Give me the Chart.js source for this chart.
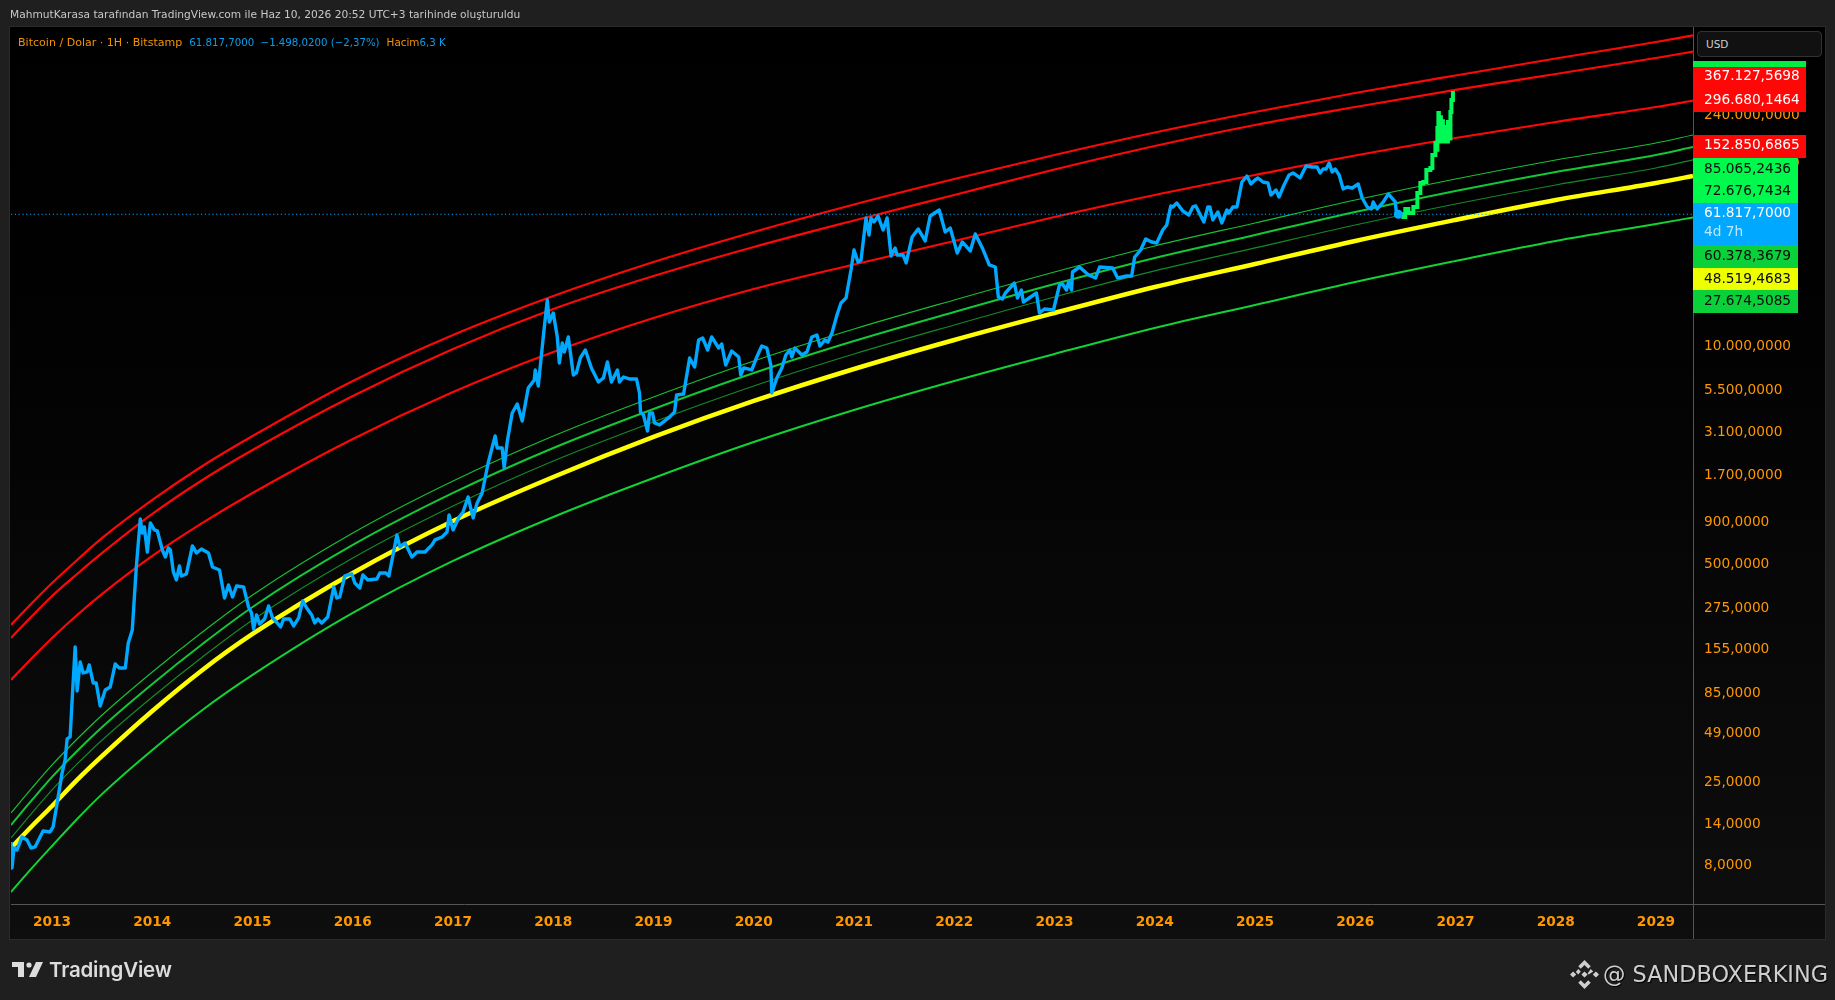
<!DOCTYPE html>
<html>
<head>
<meta charset="utf-8">
<title>Bitcoin / Dolar</title>
<script src="https://cdn.jsdelivr.net/npm/chart.js@4"></script>
<style>
  html, body { margin: 0; padding: 0; background: #1f1f1f; }
  #wrap { position: relative; width: 1835px; height: 1000px; overflow: hidden; font-family: "DejaVu Sans", sans-serif; }
  canvas { position: absolute; left: 0; top: 0; }
  .txt { position: absolute; white-space: nowrap; }
  #baslik { left: 10px; top: 8px; font-size: 10.65px; color: #c8c8c8; line-height: 14px; }
  #sembol { left: 18px; top: 35px; font-size: 11.05px; line-height: 14px; color: #f59300; }
  #sembol b { font-weight: normal; color: #0a9ee8; font-size: 10.2px; }
  #sembol i { font-style: normal; font-size: 10.4px; }
  #usd { position: absolute; left: 1697px; top: 31px; width: 125px; height: 26px; box-sizing: border-box; background: #111; border: 1px solid #333; border-radius: 4px; color: #cfcfcf; font-size: 10.5px; line-height: 25px; padding-left: 8px; }
  #logo { position: absolute; left: 12px; top: 962px; }
  #tv { left: 49px; top: 956px; font-family: Inter, sans-serif; font-weight: 600; font-size: 20.5px; line-height: 28px; color: #dcdcdc; letter-spacing: -0.2px; }
  #bnb { position: absolute; left: 1570px; top: 960px; }
  #imza { left: 1603px; top: 958px; font-size: 22.4px; line-height: 32px; color: #cfcfcf; text-shadow: 1px 1px 1px #000; }
</style>
</head>
<body>
<div id="wrap">
  <canvas id="grafik" width="1835" height="1000"></canvas>
  <div class="txt" id="baslik">MahmutKarasa tarafından TradingView.com ile Haz 10, 2026 20:52 UTC+3 tarihinde oluşturuldu</div>
  <div class="txt" id="sembol">Bitcoin / Dolar · 1H · Bitstamp&nbsp; <b>61.817,7000&nbsp; −1.498,0200 (−2,37%)</b>&nbsp; <i>Hacim</i><b>6,3 K</b></div>
  <div id="usd">USD</div>
  <svg id="logo" width="31" height="16" viewBox="0 0 31 16"><path d="M0 0h12v15H6V5H0z M24 0h7l-7 15h-7z" fill="#dcdcdc"/><circle cx="17" cy="3" r="2.6" fill="#dcdcdc"/></svg>
  <div class="txt" id="tv">TradingView</div>
  <svg id="bnb" width="29" height="29" viewBox="0 0 28 28"><path d="M14 0l6 6-2.4 2.4L14 4.8l-3.6 3.6L8 6z M3 11l3 3-3 3-3-3z M25 11l3 3-3 3-3-3z M14 11l3 3-3 3-3-3z M14 28l-6-6 2.4-2.4 3.6 3.6 3.6-3.6L20 22z M8 8.6l2.4 2.4L8 14l-2.4-2.4z M20 8.6l2.4 2.4L18 14l-1-1z" fill="#cfcfcf"/></svg>
  <div class="txt" id="imza">@ SANDBOXERKING</div>
</div>
<script>
const yearTicks = [2013, 2014, 2015, 2016, 2017, 2018, 2019, 2020, 2021, 2022, 2023, 2024, 2025, 2026, 2027, 2028, 2029];
const priceTicks = [240000, 125000, 10000, 5500, 3100, 1700, 900, 500, 275, 155, 85, 49, 25, 14, 8];

const bandYears = [2012.59, 2012.8, 2013, 2013.25, 2013.5, 2014, 2014.5, 2015, 2016, 2017, 2018, 2019, 2020, 2021, 2022, 2023, 2024, 2025, 2026, 2027, 2028, 2029, 2029.37];
const yellowBand = [10.18, 13.78, 18.14, 25.96, 36.1, 66.97, 117.7, 193, 446.5, 912, 1670, 2895, 4748, 7372, 10984, 15915, 22757, 31218, 42840, 57170, 75250, 95030, 104660];
const greenTop = [16.48, 23.25, 31.9, 45.58, 63.4, 114.5, 198.4, 330, 773.7, 1581, 2934, 5018, 8229, 12773, 19030, 27964, 39988, 54865, 75250, 100412, 130400, 164700, 183900];
const greenMid = [13.97, 19.71, 27.05, 38.65, 53.76, 97.1, 168.2, 279.8, 656, 1341, 2488, 4255, 6977, 10830, 16135, 23710, 33905, 46520, 63805, 85140, 110570, 139650, 155930];
const greenLow = [11.69, 16.49, 22.63, 32.33, 44.97, 81.2, 140.7, 234, 548.8, 1121, 2081, 3559, 5837, 9060, 13498, 19835, 28364, 38916, 53375, 71222, 92490, 116820, 130440];
const greenBottom = [5.56, 7.74, 10.47, 15.17, 21.42, 39.2, 67.9, 109.9, 257.6, 526.5, 963.9, 1647, 2702, 4196, 6252, 9060, 12950, 17766, 24380, 32531, 42840, 54105, 59180];
const redOne = [218.5, 295.6, 389, 533.8, 722.5, 1218, 1943, 2934, 6251, 11765, 20108, 32085, 48484, 70740, 100400, 139700, 190300, 252250, 327500, 416700, 526300, 660100, 723800];
const redTwo = [182.7, 247.1, 325.4, 440.3, 587.7, 1005, 1603, 2421, 5087, 9705, 16815, 26470, 39450, 56770, 80620, 114400, 158100, 211000, 270200, 341470, 425360, 530000, 577950];
const redThree = [102.6, 138.8, 182.7, 250.6, 334.6, 563.9, 888, 1340, 2817, 5373, 9313, 14860, 22140, 31000, 42840, 59550, 80620, 106100, 138700, 176480, 219850, 270200, 294640];

const btcYears = [2012.59, 2012.60, 2012.62, 2012.65, 2012.70, 2012.75, 2012.79, 2012.83, 2012.88, 2012.91, 2012.98, 2013.01, 2013.05, 2013.10, 2013.13, 2013.15, 2013.18, 2013.20, 2013.23, 2013.25, 2013.28, 2013.31, 2013.35, 2013.37, 2013.41, 2013.44, 2013.48, 2013.53, 2013.58, 2013.63, 2013.67, 2013.73, 2013.76, 2013.80, 2013.84, 2013.88, 2013.90, 2013.92, 2013.95, 2013.98,
  2014.02, 2014.05, 2014.10, 2014.13, 2014.16, 2014.18, 2014.21, 2014.24, 2014.27, 2014.29, 2014.34, 2014.40, 2014.44, 2014.49, 2014.56, 2014.60, 2014.67, 2014.72, 2014.76, 2014.80, 2014.84, 2014.91, 2014.96, 2014.99,
  2015.01, 2015.04, 2015.07, 2015.12, 2015.16, 2015.20, 2015.28, 2015.31, 2015.37, 2015.41, 2015.46, 2015.50, 2015.54, 2015.59, 2015.62, 2015.65, 2015.69, 2015.75, 2015.81, 2015.84, 2015.87, 2015.92, 2015.99,
  2016.02, 2016.07, 2016.10, 2016.15, 2016.24, 2016.27, 2016.33, 2016.36, 2016.44, 2016.47, 2016.52, 2016.59, 2016.64, 2016.72, 2016.79, 2016.82, 2016.89, 2016.94, 2016.96,
  2017.00, 2017.06, 2017.10, 2017.15, 2017.20, 2017.24, 2017.29, 2017.35, 2017.42, 2017.44, 2017.49, 2017.51, 2017.54, 2017.59, 2017.64, 2017.69, 2017.75, 2017.81, 2017.82, 2017.85, 2017.90, 2017.94, 2017.96,
  2018.00, 2018.04, 2018.06, 2018.09, 2018.11, 2018.15, 2018.20, 2018.23, 2018.27, 2018.32, 2018.38, 2018.45, 2018.50, 2018.54, 2018.58, 2018.64, 2018.66, 2018.70, 2018.76, 2018.83, 2018.86, 2018.87, 2018.90, 2018.94, 2018.96, 2018.99,
  2019.01, 2019.06, 2019.15, 2019.21, 2019.23, 2019.30, 2019.36, 2019.41, 2019.45, 2019.49, 2019.54, 2019.58, 2019.65, 2019.68, 2019.72, 2019.78, 2019.85, 2019.87, 2019.90, 2019.98,
  2020.03, 2020.08, 2020.13, 2020.17, 2020.18, 2020.23, 2020.28, 2020.32, 2020.36, 2020.38, 2020.41, 2020.48, 2020.53, 2020.58, 2020.63, 2020.66, 2020.71, 2020.74, 2020.78, 2020.83, 2020.87, 2020.92, 2020.97,
  2021.00, 2021.04, 2021.07, 2021.12, 2021.15, 2021.17, 2021.20, 2021.24, 2021.29, 2021.33, 2021.37, 2021.41, 2021.43, 2021.49, 2021.52, 2021.58, 2021.64, 2021.71, 2021.76, 2021.85, 2021.91, 2021.96,
  2022.03, 2022.08, 2022.16, 2022.21, 2022.28, 2022.35, 2022.41, 2022.44, 2022.48, 2022.51, 2022.60, 2022.63, 2022.67, 2022.69, 2022.82, 2022.85, 2022.90, 2022.99,
  2023.05, 2023.08, 2023.12, 2023.14, 2023.17, 2023.18, 2023.25, 2023.34, 2023.41, 2023.45, 2023.58, 2023.63, 2023.72, 2023.77, 2023.80, 2023.86, 2023.91, 2023.97,
  2024.02, 2024.08, 2024.12, 2024.16, 2024.18, 2024.22, 2024.28, 2024.34, 2024.38, 2024.41, 2024.49, 2024.53, 2024.55, 2024.58, 2024.63, 2024.67, 2024.72, 2024.74, 2024.78, 2024.82, 2024.87, 2024.92, 2024.96,
  2025.00, 2025.03, 2025.08, 2025.13, 2025.16, 2025.21, 2025.24, 2025.29, 2025.34, 2025.38, 2025.45, 2025.51, 2025.57, 2025.62, 2025.65, 2025.68, 2025.71, 2025.74, 2025.77, 2025.80, 2025.84, 2025.88, 2025.92, 2025.97,
  2026.03, 2026.07, 2026.12, 2026.16, 2026.18, 2026.22, 2026.28, 2026.33, 2026.40, 2026.41, 2026.43];
const btcPrices = [11.06, 7.74, 10.18, 9.91, 11.85, 11.37, 10.18, 10.33, 11.85, 12.87, 12.69, 13.59, 18.9, 28.6, 34.2, 45.6, 46.9, 77.9, 161.5, 88.2, 131.3, 112.9, 114.5, 126, 98.4, 98.4, 71.7, 89.4, 93.2, 127.8, 121, 121, 170.5, 204, 484.7, 938, 773.7, 840, 595.8, 888,
  806.6, 795.5, 612.4, 556.2, 629.6, 612.4, 452.6, 405.5, 491.4, 428.4, 440.3, 647.2, 587.7, 621, 587.7, 484.7, 465.2, 316.6, 378.6, 321, 373.3, 368.3, 279.7, 257.6,
  206.7, 250.6, 221.5, 237.2, 283.6, 240.5, 212.5, 237.2, 237.2, 215.5, 240.5, 303.8, 275.9, 250.6, 224.6, 237.2, 224.6, 243.8, 368.3, 316.6, 321, 428.4, 440.3,
  389, 363.3, 434.4, 405.5, 411, 446.5, 446.5, 428.4, 753, 638.5, 674.3, 556.2, 595.8, 595.8, 656.4, 703, 732.5, 784.8, 991,
  806.6, 964, 1033, 1269, 951, 1169, 1340, 2025, 2934, 2488, 2488, 1891, 2702, 4026, 4556, 3606, 5678, 6339, 7272, 5834, 11445, 19030, 14063,
  15915, 11445, 8005, 10535, 9313, 11445, 6789, 6979, 8576, 9572, 7476, 6167, 6514, 8116, 6167, 7272, 6167, 6603, 6425, 6425, 5299, 4082, 3917, 3144, 4026, 4026,
  3510, 3415, 3760, 4082, 5158, 5230, 8576, 7575, 10984, 11289, 9572, 11445, 9837, 10398, 7789, 9441, 8693, 6789, 7476, 7272,
  8693, 10113, 9837, 7789, 5299, 6514, 7476, 8936, 9572, 8693, 9837, 8936, 9313, 11445, 11765, 10113, 10984, 10682, 12088, 15485, 18261, 19560, 28747,
  37840, 32085, 32982, 58770, 46520, 58770, 55610, 60380, 49830, 58770, 34840, 38900, 35330, 35330, 31650, 45260, 50510, 42840, 60380, 65590, 48480, 51210,
  36310, 42240, 37320, 47150, 38900, 30790, 29950, 19840, 19300, 20950, 24040, 19560, 21840, 18510, 20950, 15915, 16815, 16587,
  23390, 23710, 21840, 24380, 21840, 27960, 29950, 26840, 25750, 29950, 29550, 25750, 26470, 26470, 34370, 37840, 44030, 42240,
  41660, 49830, 53380, 69290, 68340, 72210, 64690, 61230, 68340, 69290, 55610, 68340, 68340, 57170, 63810, 54870, 65590, 62930, 68340, 68340, 96390, 104660, 93740,
  99065, 101800, 96390, 95030, 80620, 86350, 78420, 92480, 106100, 109100, 101800, 120000, 118400, 118400, 109100, 115220, 115220, 125100, 110600, 115220, 106100, 87530, 89970, 88740,
  93740, 77330, 68340, 66490, 73210, 66490, 73210, 81740, 73210, 63810, 61818];

const projectionYears = [2026.43, 2026.48, 2026.50, 2026.53, 2026.58, 2026.62, 2026.65, 2026.68, 2026.71, 2026.75, 2026.77, 2026.80, 2026.81, 2026.82, 2026.83, 2026.835, 2026.845, 2026.855, 2026.865, 2026.875, 2026.885, 2026.895, 2026.905, 2026.915, 2026.925, 2026.935, 2026.95, 2026.96, 2026.975];
const projectionPrices = [61818, 59550, 66490, 62930, 68340, 82820, 95030, 96390, 113700, 116840, 139700, 164700, 150000, 202400, 248800, 168000, 235000, 171700, 222000, 168000, 205000, 168000, 205000, 168000, 220000, 175000, 252250, 297500, 336800];

const lastPrice = 61817.70;
const lastYear = 2026.43;
const countdown = "4d 7h";
const tagValues = [367127.5698, 296680.1464, 152850.6865, 85065.2436, 72676.7434, 60378.3679, 48519.4683, 27674.5085];

const fmt = v => v.toLocaleString("tr-TR", { minimumFractionDigits: 4, maximumFractionDigits: 4 });
const pts = (xs, ys) => xs.map((x, i) => ({ x: x, y: ys[i] }));
const band = (label, data, color, width, order) => ({
  label: label, data: pts(bandYears, data), borderColor: color, borderWidth: width,
  pointRadius: 0, cubicInterpolationMode: "monotone", order: order
});

// etiket kutulari: fiyat ekseninde TradingView'un kaydirdigi yerler
const tagStyle = [
  { top: 67, h: 23, bg: "#ff0707", fg: "#fff", w: 113, dy: -2 },
  { top: 90, h: 22, bg: "#ff0707", fg: "#fff", w: 113, dy: -1 },
  { top: 135, h: 23, bg: "#ff0707", fg: "#fff", w: 113, dy: -1 },
  { top: 158, h: 22, bg: "#00f94c", fg: "#0a0a0a", w: 105, dy: 0 },
  { top: 180, h: 23, bg: "#00f94c", fg: "#0a0a0a", w: 105, dy: 0 },
  { top: 245, h: 23, bg: "#0ad13a", fg: "#0a0a0a", w: 105, dy: 0 },
  { top: 268, h: 22, bg: "#eeff00", fg: "#0a0a0a", w: 105, dy: 0 },
  { top: 290, h: 23, bg: "#0ad13a", fg: "#0a0a0a", w: 105, dy: 0 }
];

const panelPlugin = {
  id: "panel",
  beforeDraw(chart) {
    const c = chart.ctx;
    const g = c.createLinearGradient(0, 27, 0, 940);
    g.addColorStop(0, "#000000");
    g.addColorStop(0.35, "#020202");
    g.addColorStop(1, "#0e0e0e");
    c.fillStyle = g;
    c.fillRect(10, 27, 1815, 912);
    c.strokeStyle = "#2b2b2b";
    c.strokeRect(9.5, 26.5, 1816, 913);
  },
  afterDraw(chart) {
    const c = chart.ctx;
    const a = chart.chartArea;
    c.save();
    c.strokeStyle = "#555";
    c.lineWidth = 1;
    c.beginPath();
    c.moveTo(a.right + 0.5, 27);
    c.lineTo(a.right + 0.5, 939);
    c.moveTo(a.left, a.bottom + 0.5);
    c.lineTo(1825, a.bottom + 0.5);
    c.stroke();

    c.font = "13.7px 'DejaVu Sans'";
    c.textBaseline = "middle";
    c.textAlign = "left";
    const tx = a.right + 11;
    // en ustte kalan yesil kutu
    c.fillStyle = "#00ee44";
    c.fillRect(a.right, 61, 113, 6);
    tagValues.forEach((v, i) => {
      const s = tagStyle[i];
      c.fillStyle = s.bg;
      c.fillRect(a.right, s.top, s.w, s.h);
      c.fillStyle = s.fg;
      c.fillText(fmt(v), tx, s.top + s.h / 2 + s.dy);
    });
    c.fillStyle = "#00a8ff";
    c.fillRect(a.right, 203, 105, 42);
    c.fillStyle = "#fff";
    c.fillText(fmt(lastPrice), tx, 213.5);
    c.fillStyle = "#bfe6fb";
    c.fillText(countdown, tx, 232.5);
    c.restore();
  }
};

new Chart(document.getElementById("grafik"), {
  type: "line",
  plugins: [panelPlugin],
  data: {
    datasets: [
      { label: "Son nokta", data: [{ x: lastYear, y: lastPrice }], pointRadius: 4.5, pointBackgroundColor: "#00a8ff", pointBorderWidth: 0, showLine: false, order: 0 },
      { label: "Projeksiyon", data: pts(projectionYears, projectionPrices), borderColor: "#00f956", borderWidth: 4, pointRadius: 0, stepped: true, order: 1 },
      { label: "BTC/USD", data: pts(btcYears, btcPrices), borderColor: "#00a8ff", borderWidth: 3.4, pointRadius: 0, borderJoinStyle: "round", order: 2 },
      { label: "Son fiyat", data: [{ x: 2012.59, y: lastPrice }, { x: 2029.37, y: lastPrice }], borderColor: "#00a8ff", borderWidth: 1.1, borderDash: [1.2, 2.6], pointRadius: 0, order: 3 },
      band("Sari", yellowBand, "#ffff00", 4.5, 4),
      band("Kirmizi 1", redOne, "#ff0707", 2.2, 5),
      band("Kirmizi 2", redTwo, "#ff0707", 2.2, 6),
      band("Kirmizi 3", redThree, "#ff0707", 2.2, 7),
      band("Yesil ust", greenTop, "#17c034", 1.2, 8),
      band("Yesil orta", greenMid, "#12c838", 2, 9),
      band("Yesil alt", greenLow, "#128a2a", 1.2, 10),
      band("Yesil taban", greenBottom, "#12d234", 2, 11)
    ]
  },
  options: {
    responsive: false,
    animation: false,
    devicePixelRatio: 1,
    layout: { padding: { left: 11, top: 27, right: 10, bottom: 60 } },
    plugins: { legend: { display: false }, tooltip: { enabled: false }, title: { display: false } },
    scales: {
      x: {
        type: "linear",
        min: 2012.59,
        max: 2029.37,
        grid: { display: false, drawTicks: false },
        border: { display: false },
        afterBuildTicks: s => { s.ticks = yearTicks.map(v => ({ value: v })); },
        afterFit: s => { s.height = 36; },
        ticks: {
          autoSkip: false, maxRotation: 0, padding: 10, color: "#ff9800",
          font: { family: "'DejaVu Sans'", size: 13.7, weight: "bold" },
          callback: v => String(v)
        }
      },
      y: {
        type: "logarithmic",
        position: "right",
        min: 4.715,
        max: 811300,
        grid: { display: false, drawTicks: false },
        border: { display: false },
        afterBuildTicks: s => { s.ticks = priceTicks.map(v => ({ value: v })); },
        afterFit: s => { s.width = 132; },
        ticks: {
          autoSkip: false, padding: 11, color: "#ff9800",
          font: { family: "'DejaVu Sans'", size: 13.7 },
          callback: v => fmt(v)
        }
      }
    }
  }
});
</script>
</body>
</html>
